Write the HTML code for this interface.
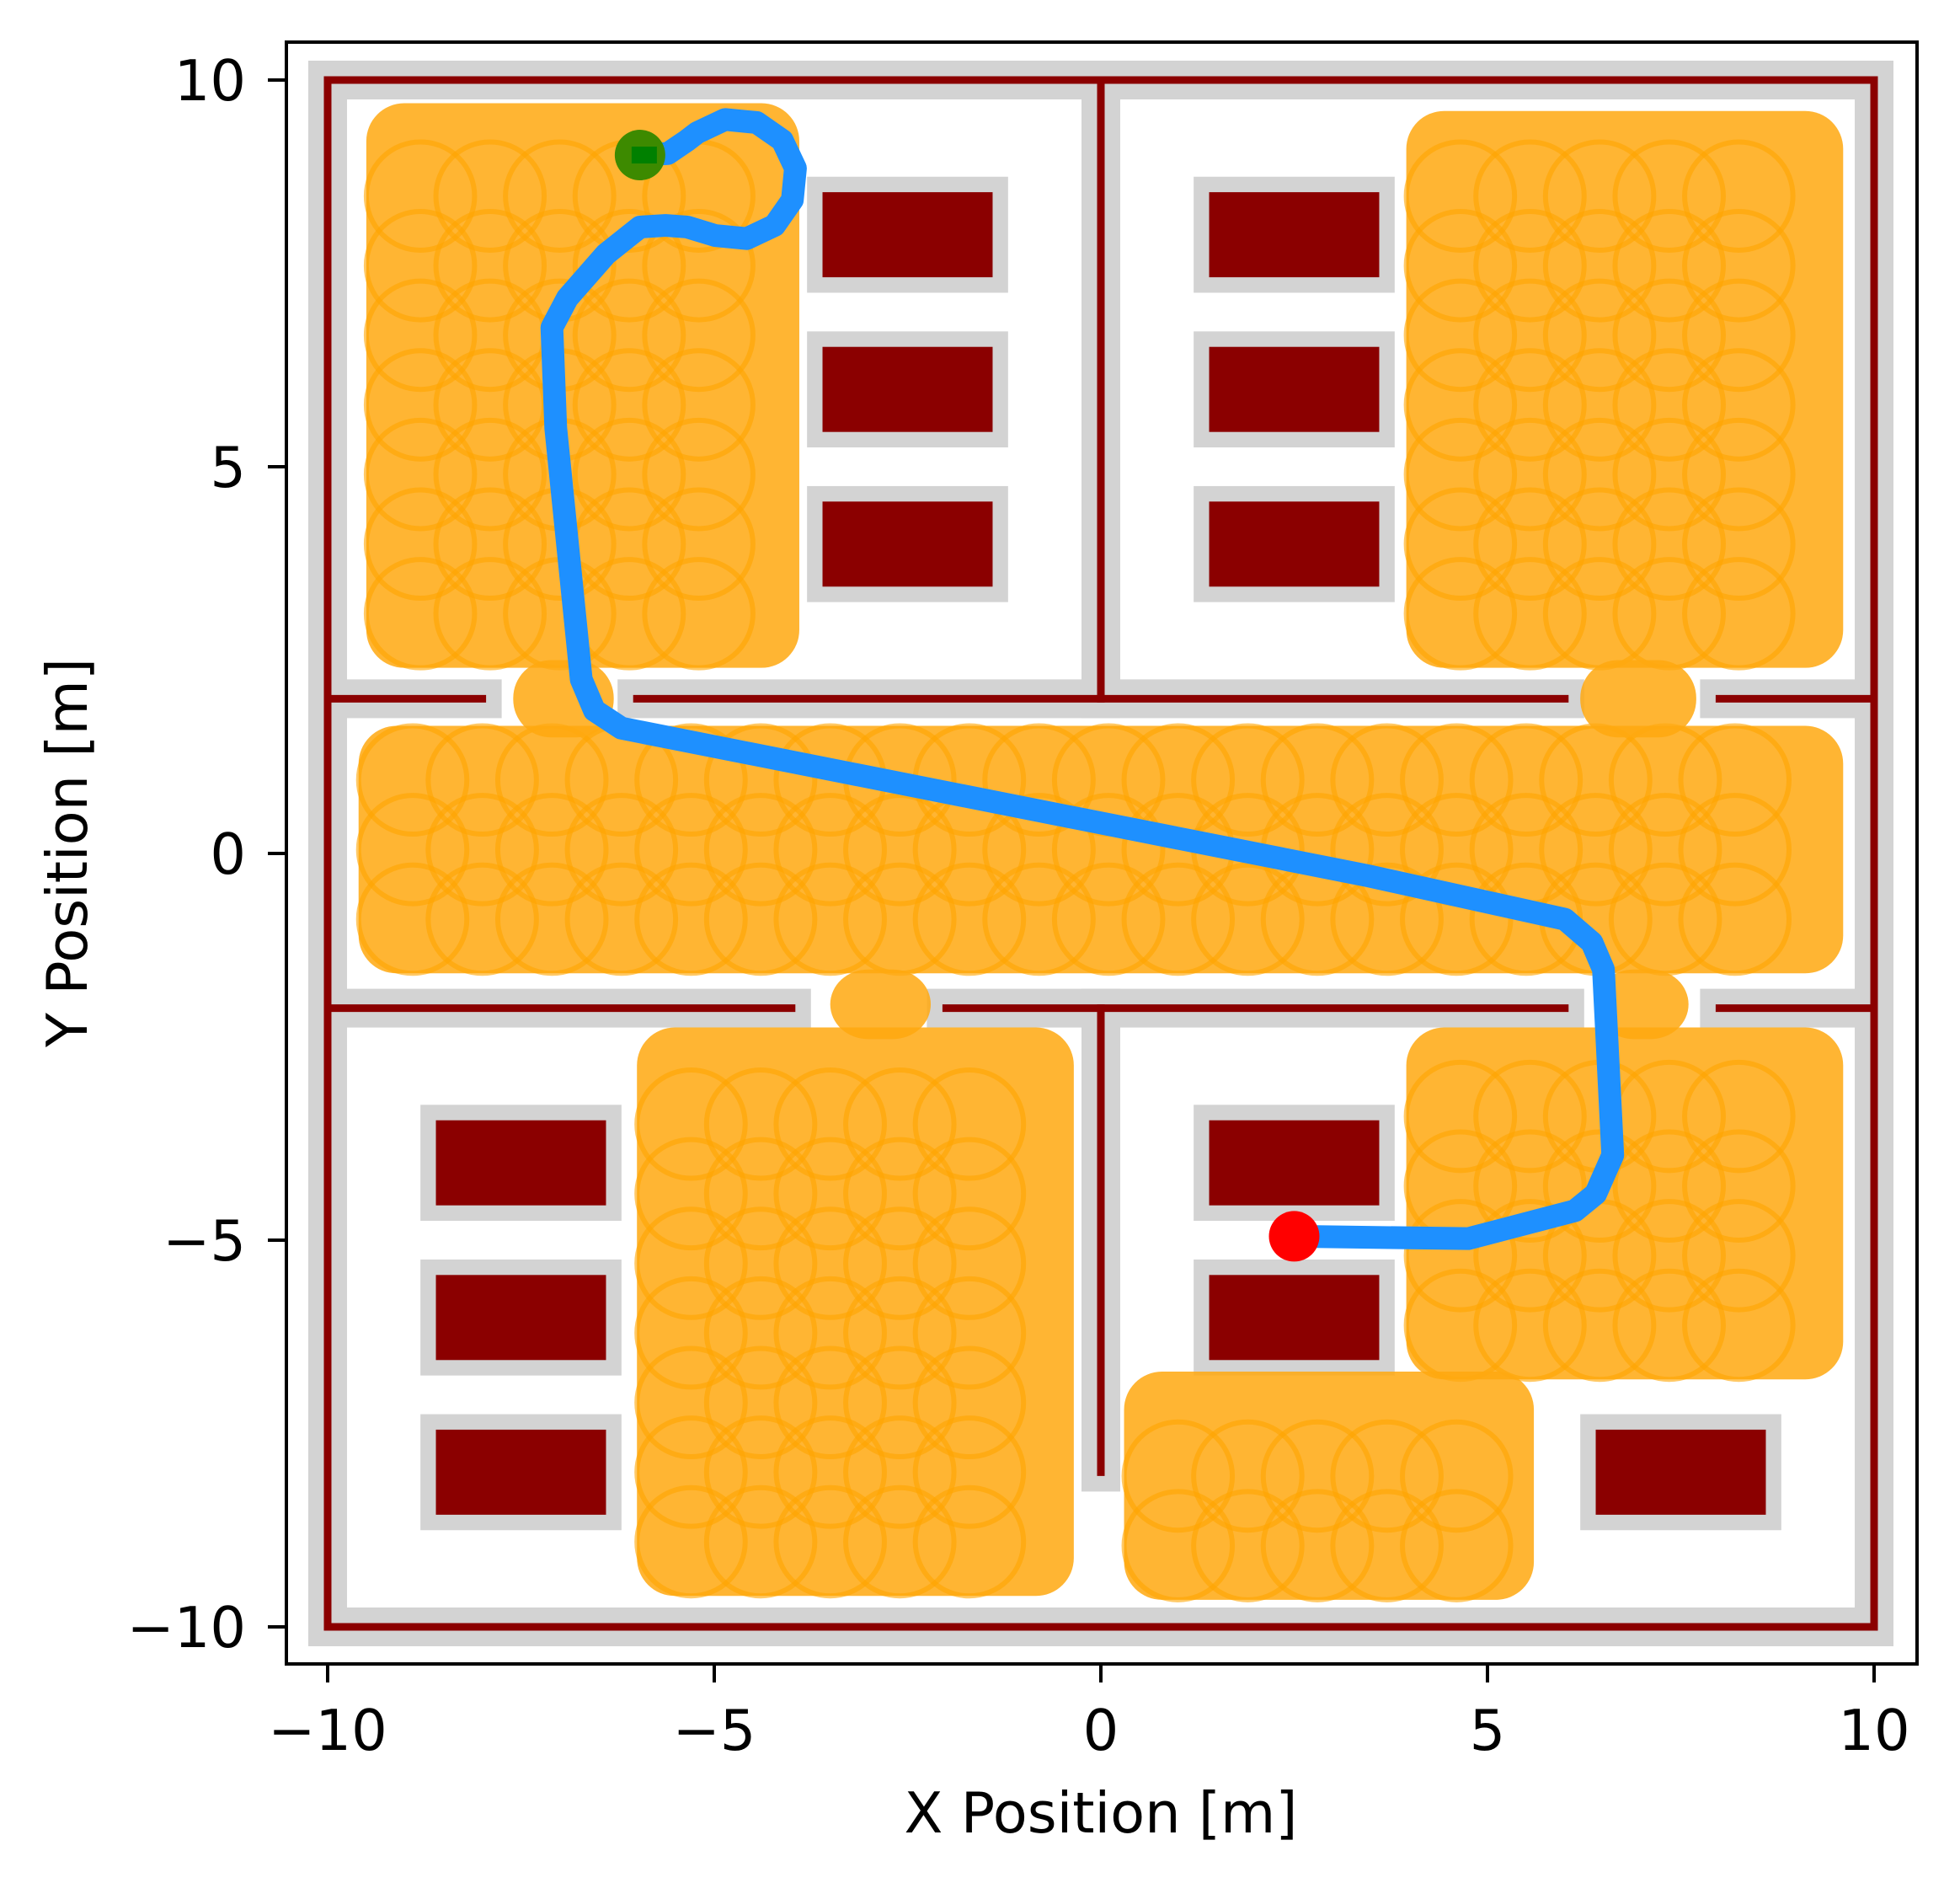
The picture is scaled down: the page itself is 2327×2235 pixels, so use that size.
<!DOCTYPE html>
<html><head><meta charset="utf-8"><style>
html,body{margin:0;padding:0;background:#fff}
svg{display:block}
text{font-family:"DejaVu Sans","Liberation Sans",sans-serif;font-size:67px;fill:#000}
</style></head><body>
<svg id="chart" xmlns="http://www.w3.org/2000/svg" width="2327" height="2235" viewBox="0 0 2327 2235">
<defs><clipPath id="clip"><rect x="340" y="50" width="1936" height="1925"/></clipPath></defs>
<g id="plot" clip-path="url(#clip)"></g>
<rect x="340" y="50" width="1936" height="1925" fill="none" stroke="#000" stroke-width="4"/>
<g id="axes"></g>
<text x="1307" y="2175" text-anchor="middle">X Position [m]</text>
<text x="0" y="0" text-anchor="middle" transform="translate(103,1012) rotate(-90)">Y Position [m]</text>
</svg>
<script>
const xTicks = [-10, -5, 0, 5, 10];
const yTicks = [-10, -5, 0, 5, 10];
const xTickLabels = ["\u221210", "\u22125", "0", "5", "10"];
const yTickLabels = ["\u221210", "\u22125", "0", "5", "10"];
const walls = [
  [-10,-10,10,-10],[10,-10,10,10],[10,10,-10,10],[-10,10,-10,-10],
  [-10,2,-8,2],[-6,2,6,2],[8,2,10,2],
  [-10,-2,-4,-2],[-2,-2,6,-2],[8,-2,10,-2],
  [0,10,0,2],[0,-2,0,-8]
];
const obstacleX = [-2.5,-2.5,-2.5,2.5,2.5,2.5,-7.5,-7.5,-7.5,2.5,2.5,7.5];
const obstacleY = [8,6,4,8,6,4,-4,-6,-8,-4,-6,-8];
const rolloutRegions = [
  [-9.5,-3.9,2.4,9.7],[3.95,9.6,2.4,9.6],[-9.6,9.6,-1.55,1.65],
  [-6,-0.35,-9.6,-2.25],[3.95,9.6,-6.8,-2.25],[0.3,5.6,-9.65,-6.7],
  [-7.6,-6.3,1.5,2.5],[6.2,7.7,1.5,2.5],[-3.5,-2.2,-2.4,-1.5],[6.4,7.6,-2.4,-1.5]
];
const pathX = [-5.96,-5.6,-5.35,-5.22,-4.86,-4.45,-4.12,-3.95,-3.99,-4.22,-4.58,-4.99,-5.35,-5.63,-5.96,-6.4,-6.9,-7.1,-7.05,-6.72,-6.55,-6.2,3.46,6.0,6.35,6.5,6.62,6.4,6.13,4.75,2.5];
const pathY = [9.03,9.05,9.22,9.32,9.49,9.45,9.22,8.86,8.45,8.12,7.95,7.99,8.1,8.12,8.1,7.75,7.18,6.8,5.5,2.25,1.85,1.62,-0.29,-0.85,-1.15,-1.5,-3.9,-4.4,-4.62,-4.98,-4.95];
const startPt = [-5.96, 9.03];
const goalPt = [2.5, -4.95];

const K = 91.8;
const sx = x => 1307 + K*x;
const sy = y => 1013 - K*y;
const NS = "http://www.w3.org/2000/svg";
const plot = document.getElementById('plot');
const axes = document.getElementById('axes');
function mk(tag, attrs, parent){const e=document.createElementNS(NS,tag);for(const k in attrs)e.setAttribute(k,attrs[k]);parent.appendChild(e);return e;}

walls.forEach(w=>{
  const l=mk('line',{x1:sx(w[0]),y1:sy(w[1]),x2:sx(w[2]),y2:sy(w[3]),stroke:'#d3d3d3','stroke-width':46,'stroke-linecap':'square'},plot);
  
  
});
obstacleX.forEach((cx,i)=>{
  const cy=obstacleY[i];
  const g=mk('rect',{x:sx(cx-1.3),y:sy(cy+0.75),width:K*2.6,height:K*1.5,fill:'#d3d3d3'},plot);
  
  
});
walls.forEach(w=>{
  const l=mk('line',{x1:sx(w[0]),y1:sy(w[1]),x2:sx(w[2]),y2:sy(w[3]),stroke:'#8b0000','stroke-width':9,'stroke-linecap':'square'},plot);
  
  
});
obstacleX.forEach((cx,i)=>{
  const cy=obstacleY[i];
  const r=mk('rect',{x:sx(cx-1.1),y:sy(cy+0.55),width:K*2.2,height:K*1.1,fill:'#8b0000'},plot);
  
  
});
rolloutRegions.forEach(r=>{
  const f=mk('rect',{x:sx(r[0]),y:sy(r[3]),width:K*(r[1]-r[0]),height:K*(r[3]-r[2]),rx:45,fill:'rgb(255,168,15)','fill-opacity':0.85},plot);
  
  
  const rad=0.7;
  for(let x=r[0]+rad;x<=r[1]-rad+0.01;x+=0.9){
    for(let y=r[2]+rad;y<=r[3]-rad+0.01;y+=0.9){
      const c=mk('circle',{cx:sx(x),cy:sy(y),r:K*rad,fill:'none',stroke:'#ffa500','stroke-opacity':0.6,'stroke-width':6},plot);
      
      
    }
  }
});
const pts=pathX.map((x,i)=>sx(x)+','+sy(pathY[i])).join(' ');
const p=mk('polyline',{points:pts,fill:'none',stroke:'#1e90ff','stroke-width':27,'stroke-linejoin':'round','stroke-linecap':'butt'},plot);


const sc=mk('circle',{cx:sx(startPt[0]),cy:sy(startPt[1]),r:30,fill:'#3d8a00'},plot);


const ss=mk('rect',{x:sx(startPt[0])-10,y:sy(startPt[1])-10,width:30,height:20,fill:'#008000'},plot);


const gc=mk('circle',{cx:sx(goalPt[0]),cy:sy(goalPt[1]),r:30,fill:'#ff0000'},plot);


const gs=mk('rect',{x:sx(goalPt[0])-10,y:sy(goalPt[1])-12,width:24,height:24,fill:'#ff0000'},plot);


xTicks.forEach((v,i)=>{
  const t=mk('line',{x1:sx(v),y1:1975,x2:sx(v),y2:1997,stroke:'#000','stroke-width':4},axes);
  
  
  const l=mk('text',{x:sx(v),y:2077,'text-anchor':'middle'},axes);
  l.textContent=xTickLabels[i];
  
  
});
yTicks.forEach((v,i)=>{
  const t=mk('line',{x1:318,y1:sy(v),x2:340,y2:sy(v),stroke:'#000','stroke-width':4},axes);
  
  
  const l=mk('text',{x:292,y:sy(v)+24,'text-anchor':'end'},axes);
  l.textContent=yTickLabels[i];
  
  
});
</script>
</body></html>
